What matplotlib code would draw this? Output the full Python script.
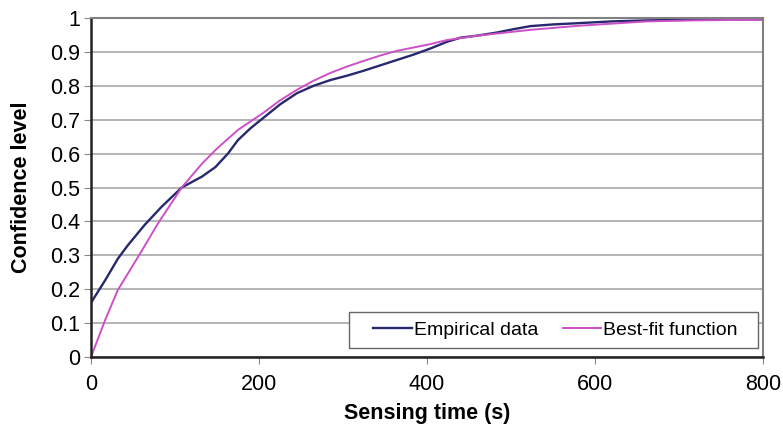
import matplotlib
matplotlib.use("Agg")
import matplotlib.pyplot as plt
from matplotlib.patches import Rectangle

plt.rcParams['font.family'] = ['Liberation Sans', 'DejaVu Sans']

# Empirical data
emp_t = [0, 17, 32, 44, 64, 84, 108, 132, 148, 163, 175, 190, 205, 225, 245,
         265, 285, 305, 324, 344, 364, 384, 404, 424, 440, 460, 483, 503, 523,
         550, 582, 620, 662, 720, 800]
emp_c = [0.16, 0.227, 0.29, 0.33, 0.39, 0.443, 0.5, 0.532, 0.56, 0.60, 0.64,
         0.675, 0.705, 0.745, 0.778, 0.80, 0.817, 0.83, 0.844, 0.86, 0.876, 0.892,
         0.91, 0.93, 0.942, 0.948, 0.957, 0.967, 0.976, 0.981, 0.985, 0.99, 0.993,
         0.995, 0.996]

# Best-fit function
fit_t = [0, 17, 32, 56, 80, 108, 132, 150, 175, 205, 225, 245, 265, 285, 305,
         324, 344, 364, 404, 424, 460, 523, 580, 662, 720, 800]
fit_c = [0.0, 0.11, 0.198, 0.295, 0.395, 0.5, 0.57, 0.615, 0.67, 0.72, 0.757,
         0.788, 0.815, 0.838, 0.857, 0.873, 0.889, 0.903, 0.923, 0.935, 0.948,
         0.965, 0.977, 0.99, 0.993, 0.995]

fig = plt.figure(figsize=(7.83, 4.24), dpi=100)
ax = fig.add_axes([91/783, 1 - 357/424, (763-91)/783, (357-18)/424])

ax.plot(emp_t, emp_c, color='#28286f', lw=1.7, label='Empirical data',
        solid_joinstyle='round')
ax.plot(fit_t, fit_c, color='#cc50c8', lw=1.4, label='Best-fit function',
        solid_joinstyle='round')

ax.set_xlim(0, 800)
ax.set_ylim(0, 1)
ax.set_xticks([0, 200, 400, 600, 800])
ax.set_yticks([i/10 for i in range(11)])
ax.set_yticklabels(['0', '0.1', '0.2', '0.3', '0.4', '0.5', '0.6', '0.7', '0.8', '0.9', '1'])
ax.yaxis.grid(True, color='#a8a8a8', lw=1.2)
ax.set_axisbelow(True)
ax.tick_params(labelsize=15.5, length=5, color='#888888')
ax.tick_params(axis='y', pad=3)
ax.tick_params(axis='x', pad=7)

for s in ['top', 'right']:
    ax.spines[s].set_color('#808080')
    ax.spines[s].set_linewidth(1.5)
for s in ['left', 'bottom']:
    ax.spines[s].set_color('#222222')
    ax.spines[s].set_linewidth(1.8)

ax.set_xlabel('Sensing time (s)', fontsize=15.5, fontweight='bold', labelpad=6)
ax.set_ylabel('Confidence level', fontsize=15.5, fontweight='bold', labelpad=13)

# legend box (wider padding than matplotlib's frame gives)
bx, by, bw, bh = (349-91)/672, 9/339, (758-349)/672, 36/339
ax.add_patch(Rectangle((bx, by), bw, bh, transform=ax.transAxes, facecolor='white',
                       edgecolor='#666666', lw=1, zorder=5))
leg = ax.legend(loc='center', bbox_to_anchor=(bx + bw/2 + 2/672, by + bh/2), ncol=2,
                fontsize=14, frameon=False, handlelength=2.0, handletextpad=0.1,
                columnspacing=1.25, borderaxespad=0, borderpad=0)
leg.set_zorder(6)

fig.savefig('out.png', dpi=100)
